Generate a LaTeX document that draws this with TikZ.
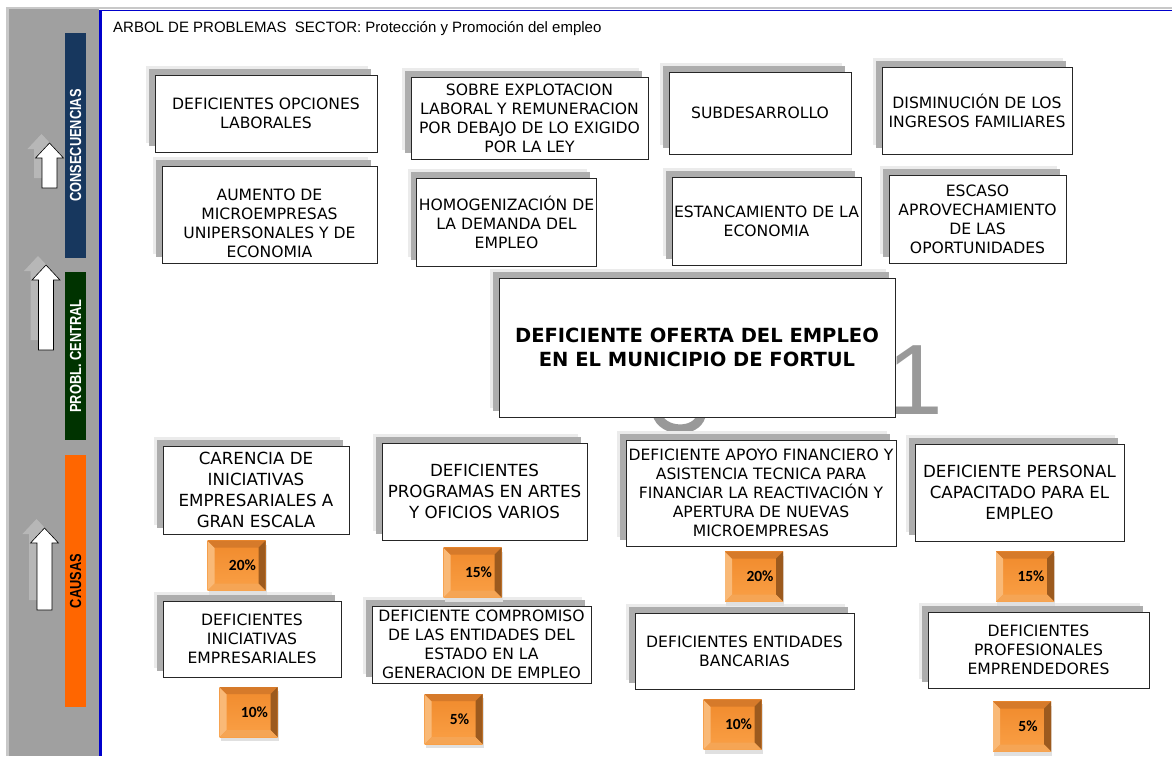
\documentclass[tikz,border=0pt]{standalone}
\usepackage{fontspec}
\usetikzlibrary{shadows}

\newfontfamily\cajafont{DejaVu Sans}
\newfontfamily\titulofont{Liberation Sans}
\newfontfamily\bandafont[FakeStretch=0.8]{Liberation Sans}
\newfontfamily\pctfont{Carlito}

\definecolor{azulbanda}{RGB}{23,55,94}
\definecolor{verdebanda}{RGB}{0,51,0}
\definecolor{naranjabanda}{RGB}{255,102,0}
\definecolor{grispanel}{RGB}{160,160,160}
\definecolor{grisborde}{RGB}{200,200,200}
\definecolor{azullinea}{RGB}{0,0,204}
\definecolor{pctarriba}{RGB}{214,122,42}
\definecolor{pctabajo}{RGB}{250,160,70}
\definecolor{pctmedio}{RGB}{240,138,44}
\definecolor{pctclaro}{RGB}{249,185,119}
\definecolor{pctoscuro}{RGB}{156,90,30}
\definecolor{pctbase}{RGB}{245,165,85}

\begin{document}
\begin{tikzpicture}[x=1pt, y=-1pt,
  problema/.style={draw=black!85, fill=white, line width=0.8pt, align=center, inner sep=2pt,
    font=\cajafont\fontsize{15.6}{19}\selectfont,
    general shadow={shadow xshift=-9pt, shadow yshift=9pt, fill=black!8},
    general shadow={shadow xshift=-6pt, shadow yshift=6pt, fill=black!32}},
  causa/.style={problema, font=\cajafont\fontsize{16.7}{21}\selectfont},
  banda/.style={rotate=90, minimum height=21, inner sep=0, text=white,
    font=\bandafont\bfseries\fontsize{16}{16}\selectfont},
  porcentaje/.style={minimum width=58, minimum height=50, inner sep=0,
    top color=pctmedio, bottom color=pctabajo,
    font=\pctfont\bfseries\fontsize{15.5}{15.5}\selectfont,
    general shadow={shadow xshift=1pt, shadow yshift=-4pt, fill=black!12},
    execute at begin node=\hspace*{12pt},
    path picture={
      \coordinate (ppnw) at (path picture bounding box.north west);
      \coordinate (ppne) at (path picture bounding box.north east);
      \coordinate (ppsw) at (path picture bounding box.south west);
      \coordinate (ppse) at (path picture bounding box.south east);
      \fill[pctclaro] (ppsw) -- (ppnw) -- ([shift={(7,7)}]ppnw) -- ([shift={(7,-7)}]ppsw) -- cycle;
      \fill[pctarriba] (ppnw) -- (ppne) -- ([shift={(-7,7)}]ppne) -- ([shift={(7,7)}]ppnw) -- cycle;
      \fill[pctoscuro] (ppne) -- (ppse) -- ([shift={(-7,-7)}]ppse) -- ([shift={(-7,7)}]ppne) -- cycle;
      \fill[pctbase] (ppse) -- (ppsw) -- ([shift={(7,-7)}]ppsw) -- ([shift={(-7,-7)}]ppse) -- cycle;
    }},
  numero/.style={text=black!40, inner sep=0, anchor=south,
    font=\titulofont\fontsize{100}{100}\selectfont}
]
  \useasboundingbox (0,0) rectangle (1172,756);

  % Marco y panel lateral
  \fill[white] (0,0) rectangle (1172,756);
  \fill[grisborde] (6,7) rectangle (1172,9);
  \fill[grisborde] (6,7) rectangle (9,756);
  \fill[grispanel] (9,9) rectangle (99,756);
  \fill[azullinea] (99,10) rectangle (1172,11.3);
  \fill[azullinea] (99,10) rectangle (101.5,756);

  % Bandas
  \node[banda, fill=azulbanda, minimum width=225] (consec) at (75.5,145.5) {CONSECUENCIAS};
  \node[banda, fill=verdebanda, minimum width=168] (probl) at (75.5,356) {PROBL. CENTRAL};
  \node[banda, fill=naranjabanda, minimum width=252, text=black] (causas) at (75.5,581) {CAUSAS};

  % Flechas
  \foreach \x/\t/\b in {49.5/143/188, 46/265/350, 44.5/528/610} {
    \fill[black!22, opacity=0.6] (\x-8,\t-9) -- (\x+6,\t+6) -- (\x-0.5,\t+6) -- (\x-0.5,\b-10)
      -- (\x-15.5,\b-10) -- (\x-15.5,\t+6) -- (\x-22,\t+6) -- cycle;
    \draw[fill=white, line width=0.6pt] (\x,\t) -- (\x+14,\t+15) -- (\x+7.5,\t+15) -- (\x+7.5,\b)
      -- (\x-7.5,\b) -- (\x-7.5,\t+15) -- (\x-14,\t+15) -- cycle;
  }

  % Titulo
  \node[anchor=west, inner sep=0, font=\titulofont\fontsize{15}{15}\selectfont] (titulo) at (113,29)
    {ARBOL DE PROBLEMAS\ \ SECTOR: Protección y Promoción del empleo};

  % Numeros de fondo
  \draw[black!40, line width=9pt] (657,414) .. controls (662,433) and (696,434) .. (701,416);
  \node[numero] (num1) at (915,415) {1};

  % Consecuencias
  \node[problema, minimum width=222, minimum height=77] (c1) at (266,113.5)
    {DEFICIENTES OPCIONES\\LABORALES};
  \node[problema, minimum width=237, minimum height=82] (c2) at (529.5,118)
    {SOBRE EXPLOTACION\\LABORAL Y REMUNERACION\\POR DEBAJO DE LO EXIGIDO\\POR LA LEY};
  \node[problema, minimum width=182, minimum height=82] (c3) at (760,113)
    {SUBDESARROLLO};
  \node[problema, minimum width=190, minimum height=87] (c4) at (977,110.5)
    {DISMINUCIÓN DE LOS\\INGRESOS FAMILIARES};
  \node[problema, minimum width=215, minimum height=97] (c5) at (269.5,214.5)
    {\rule{0pt}{30pt}AUMENTO DE\\MICROEMPRESAS\\UNIPERSONALES Y DE\\ECONOMIA};
  \node[problema, minimum width=177, minimum height=88] (c6) at (506.5,222)
    {HOMOGENIZACIÓN DE\\LA DEMANDA DEL\\EMPLEO};
  \node[problema, minimum width=189, minimum height=88] (c7) at (766.5,221)
    {ESTANCAMIENTO DE LA\\ECONOMIA};
  \node[problema, minimum width=177, minimum height=88] (c8) at (977.5,219)
    {ESCASO\\APROVECHAMIENTO\\DE LAS\\OPORTUNIDADES};

  % Problema central
  \node[problema, minimum width=396, minimum height=139,
    font=\cajafont\bfseries\fontsize{19.5}{24}\selectfont] (central) at (697,347.5)
    {DEFICIENTE OFERTA DEL EMPLEO\\EN EL MUNICIPIO DE FORTUL};

  % Causas
  \node[causa, minimum width=186, minimum height=88] (k1) at (256,490)
    {CARENCIA DE\\INICIATIVAS\\EMPRESARIALES A\\GRAN ESCALA};
  \node[causa, minimum width=205, minimum height=97] (k2) at (484.5,491.5)
    {DEFICIENTES\\PROGRAMAS EN ARTES\\Y OFICIOS VARIOS};
  \node[problema, minimum width=270, minimum height=106] (k3) at (761,493)
    {DEFICIENTE APOYO FINANCIERO Y\\ASISTENCIA TECNICA PARA\\FINANCIAR LA REACTIVACIÓN Y\\APERTURA DE NUEVAS\\MICROEMPRESAS};
  \node[causa, minimum width=209, minimum height=97] (k4) at (1019.5,492.5)
    {DEFICIENTE PERSONAL\\CAPACITADO PARA EL\\EMPLEO};
  \node[problema, minimum width=178, minimum height=76] (k5) at (252,639)
    {DEFICIENTES\\INICIATIVAS\\EMPRESARIALES};
  \node[problema, minimum width=219, minimum height=77] (k6) at (481.5,644.5)
    {DEFICIENTE COMPROMISO\\DE LAS ENTIDADES DEL\\ESTADO EN LA\\GENERACION DE EMPLEO};
  \node[problema, minimum width=219, minimum height=76] (k7) at (744.5,651)
    {DEFICIENTES ENTIDADES\\BANCARIAS};
  \node[problema, minimum width=221, minimum height=76] (k8) at (1038.5,650)
    {DEFICIENTES\\PROFESIONALES\\EMPRENDEDORES};

  % Porcentajes
  \foreach \n/\x/\y/\v in {1/236.5/565.5/20, 2/472.5/572.5/15, 3/248.5/712/10, 4/453.5/719/5,
                          5/754/576.5/20, 6/1025/576.5/15, 7/732.5/724.5/10, 8/1022/726.5/5} {
    \node[porcentaje] (p\n) at (\x,\y) {\v\%};
  }
\end{tikzpicture}
\end{document}
